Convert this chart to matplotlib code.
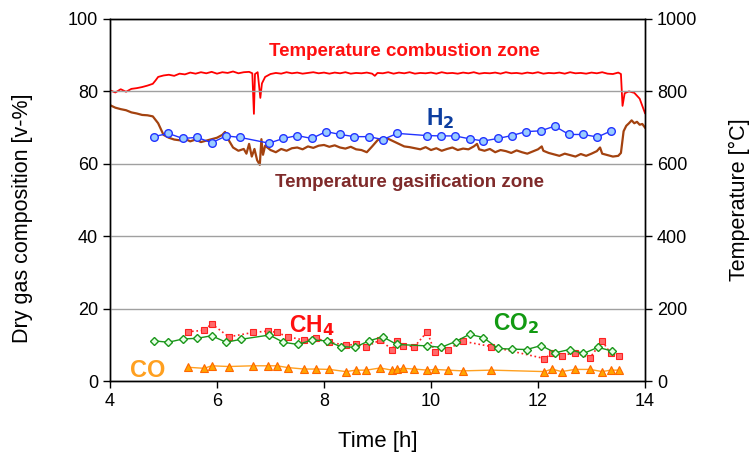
import matplotlib
matplotlib.use("Agg")
import matplotlib.pyplot as plt

plt.rcParams['font.family'] = ['Liberation Sans', 'DejaVu Sans']

# ---- gas composition (left axis, v-%) ----
h2_t = [4.82, 5.09, 5.36, 5.63, 5.90, 6.17, 6.43, 6.97, 7.24, 7.50, 7.77, 8.04, 8.30, 8.57,
        8.84, 9.10, 9.37, 9.92, 10.19, 10.45, 10.72, 10.98, 11.25, 11.51, 11.78, 12.05,
        12.31, 12.58, 12.85, 13.11, 13.37]
h2_v = [67.5, 68.4, 67.0, 67.3, 65.8, 67.7, 67.3, 65.7, 67.0, 67.8, 67.0, 68.9, 68.1, 67.5,
        67.5, 66.7, 68.4, 67.8, 67.7, 67.7, 66.9, 66.3, 67.0, 67.8, 68.9, 69.1,
        70.4, 68.1, 68.1, 67.4, 69.1]

co2_t = [4.82, 5.09, 5.36, 5.63, 5.90, 6.17, 6.44, 6.98, 7.24, 7.51, 7.78, 8.05, 8.31, 8.58,
         8.84, 9.10, 9.36, 9.92, 10.19, 10.46, 10.72, 10.98, 11.25, 11.51, 11.79, 12.06,
         12.32, 12.59, 12.85, 13.12, 13.38]
co2_v = [11.1, 10.7, 11.6, 11.8, 12.5, 10.7, 11.5, 12.7, 10.7, 10.1, 11.3, 11.1, 9.5, 9.3,
         11.1, 12.2, 10.1, 9.7, 9.3, 10.9, 12.9, 12.0, 9.0, 8.8, 8.7, 9.8,
         7.8, 8.7, 7.6, 9.3, 8.3]

ch4_t = [5.45, 5.76, 5.90, 6.22, 6.67, 6.96, 7.12, 7.33, 7.63, 7.85, 8.10, 8.41, 8.60, 8.79,
         9.05, 9.27, 9.36, 9.47, 9.69, 9.93, 10.07, 10.31, 10.59, 11.13, 12.12, 12.26,
         12.44, 12.69, 12.97, 13.20, 13.36, 13.51]
ch4_v = [13.6, 14.0, 15.8, 12.2, 13.4, 13.8, 13.4, 12.2, 11.3, 11.8, 10.7, 9.9, 10.1, 9.5,
         11.3, 8.7, 11.0, 9.8, 9.5, 13.6, 7.9, 8.7, 11.0, 9.5, 6.2, 7.6,
         7.0, 7.8, 6.4, 11.0, 7.6, 7.0]
co_v = [3.8, 3.5, 4.2, 4.0, 4.2, 4.2, 4.2, 3.7, 3.3, 3.3, 3.2, 2.6, 3.0, 3.0,
        3.6, 3.0, 3.2, 3.5, 3.3, 3.0, 3.2, 3.0, 2.8, 3.0, 2.6, 3.3,
        2.6, 3.2, 3.2, 2.6, 3.0, 3.0]

# ---- temperatures (right axis, degC) ----
tc_t = [4.0, 4.1, 4.2, 4.3, 4.4, 4.5, 4.6, 4.7, 4.8, 4.85, 4.9, 5.0, 5.1, 5.2, 5.3, 5.4,
        5.5, 5.6, 5.7, 5.8, 5.9, 6.0, 6.1, 6.2, 6.3, 6.4, 6.5, 6.6, 6.66, 6.69, 6.71,
        6.76, 6.81, 6.84, 6.9, 7.0, 7.1, 7.2, 7.3, 7.4, 7.5, 7.6, 7.7, 7.8, 7.9, 8.0,
        8.1, 8.2, 8.3, 8.4, 8.5, 8.6, 8.7, 8.8, 8.9, 8.95, 9.0, 9.1, 9.2, 9.3, 9.4, 9.5,
        9.6, 9.7, 9.8, 9.9, 10.0, 10.1, 10.2, 10.3, 10.4, 10.5, 10.6, 10.7, 10.8, 10.9,
        11.0, 11.1, 11.2, 11.3, 11.4, 11.5, 11.6, 11.7, 11.8, 11.9, 12.0, 12.1, 12.2,
        12.3, 12.4, 12.5, 12.6, 12.7, 12.8, 12.9, 13.0, 13.1, 13.2, 13.3, 13.4, 13.5,
        13.55, 13.58, 13.62, 13.7, 13.8, 13.9, 14.0]
tc_v = [803, 797, 806, 799, 807, 809, 812, 816, 821, 830, 840, 844, 846, 843, 849, 847,
        852, 849, 853, 850, 854, 849, 853, 851, 855, 850, 853, 854, 850, 738, 848,
        853, 782, 822, 840, 848, 851, 849, 853, 850, 852, 849, 851, 853, 850, 852,
        849, 852, 850, 853, 849, 851, 850, 852, 849, 843, 851, 850, 853, 849, 852, 850,
        853, 849, 851, 850, 852, 849, 853, 850, 851, 849, 852, 850, 853, 849,
        851, 850, 852, 849, 853, 850, 851, 849, 852, 850, 853, 849, 851,
        850, 852, 849, 853, 850, 851, 849, 852, 850, 853, 849, 848, 852,
        848, 760, 795, 800, 796, 780, 740]

tg_t = [4.0, 4.1, 4.2, 4.3, 4.4, 4.5, 4.6, 4.7, 4.8, 4.9, 5.0, 5.1, 5.2, 5.3, 5.4, 5.5,
        5.6, 5.7, 5.8, 5.9, 6.0, 6.1, 6.15, 6.2, 6.3, 6.4, 6.5, 6.55, 6.6, 6.65, 6.7,
        6.75, 6.8, 6.83, 6.86, 6.9, 7.0, 7.1, 7.2, 7.3, 7.4, 7.5, 7.6, 7.7, 7.8, 7.9,
        8.0, 8.1, 8.2, 8.3, 8.4, 8.5, 8.6, 8.7, 8.8, 8.9, 9.0, 9.1, 9.2, 9.3, 9.4, 9.5,
        9.6, 9.7, 9.8, 9.9, 10.0, 10.1, 10.2, 10.3, 10.4, 10.5, 10.6, 10.7, 10.8, 10.86,
        10.9, 11.0, 11.1, 11.2, 11.3, 11.4, 11.5, 11.6, 11.7, 11.8, 11.9, 12.0, 12.07,
        12.1, 12.2, 12.3, 12.4, 12.5, 12.6, 12.7, 12.8, 12.9, 13.0, 13.1, 13.16, 13.2,
        13.3, 13.4, 13.5, 13.55, 13.6, 13.65, 13.7, 13.75, 13.8, 13.85, 13.9, 13.95, 14.0]
tg_v = [762, 755, 751, 748, 742, 739, 735, 734, 731, 712, 680, 672, 667, 665, 669, 662,
        667, 660, 664, 668, 672, 680, 688, 670, 645, 636, 641, 628, 655, 620, 641,
        610, 597, 668, 625, 650, 638, 632, 641, 636, 643, 645, 640, 648, 644, 650,
        652, 647, 651, 645, 642, 647, 640, 638, 632, 648, 665, 672, 669, 662, 655, 648,
        646, 643, 640, 646, 638, 643, 636, 641, 645, 638, 642, 640, 648, 655,
        640, 636, 641, 632, 638, 635, 630, 637, 632, 628, 634, 640, 648,
        636, 630, 626, 622, 628, 624, 620, 627, 622, 628, 635, 645, 628,
        624, 620, 622, 630, 690, 705, 712, 720, 712, 716, 708, 710, 700]

# ---- figure ----
fig = plt.figure(figsize=(7.55, 4.63), dpi=100)
ax = fig.add_axes([110/755, 1-381/463, 535/755, 362/463])
ax2 = ax.twinx()
ax.set_zorder(ax2.get_zorder() + 1)
ax.patch.set_visible(False)

ax2.plot(tg_t, tg_v, color='#a3420f', lw=1.6)
ax2.plot(tc_t, tc_v, color='#ff0000', lw=1.3)
ax2.set_ylim(0, 1000)
ax2.set_yticks([0, 200, 400, 600, 800, 1000])

ax.plot(h2_t, h2_v, color='#2233ff', lw=1.0, marker='o', ms=5.5,
        mfc='#99ccff', mec='#2233ff', mew=1.0)
ax.plot(ch4_t, ch4_v, color='#ff2020', lw=1.2, ls=':', marker='s', ms=5,
        mfc='#ff6b6b', mec='#ff2020', mew=0.8)
ax.plot(co2_t, co2_v, color='#1a961a', lw=1.0, marker='D', ms=4.5,
        mfc='#e6ffe6', mec='#1a961a', mew=1.0)
ax.plot(ch4_t, co_v, color='#ffa020', lw=1.0, marker='^', ms=5.5,
        mfc='#ffa500', mec='#ff6600', mew=0.8)

ax.set_xlim(4, 14)
ax.set_ylim(0, 100)
ax.set_xticks([4, 6, 8, 10, 12, 14])
ax.set_yticks([0, 20, 40, 60, 80, 100])
ax.yaxis.grid(True, color='#a0a0a0', lw=1)
ax.set_axisbelow(True)

for a in (ax, ax2):
    a.tick_params(direction='out', length=5, width=1, labelsize=13, colors='black')
    for s in a.spines.values():
        s.set_linewidth(1.0)
        s.set_color('black')

ax.set_xlabel('Time [h]', fontsize=16, labelpad=15)
ax.set_ylabel('Dry gas composition [v-%]', fontsize=15.5)
ax.yaxis.set_label_coords(-0.143, 0.45)
ax2.set_ylabel('Temperature [°C]', fontsize=15.5, labelpad=23)

ax.text(9.51, 90.9, 'Temperature combustion zone', color='#ff1010', fontsize=13.5,
        fontweight='bold', ha='center', va='center')
ax.text(9.6, 54.7, 'Temperature gasification zone', color='#7f2a2a', fontsize=13.5,
        fontweight='bold', ha='center', va='center')
ax.text(10.17, 72.5, 'H$_\\mathbf{2}$', color='#0d3ea0', fontsize=16.5,
        fontweight='bold', ha='center', va='center')
ax.text(7.78, 15.3, 'CH$_\\mathbf{4}$', color='#ff1010', fontsize=16.5,
        fontweight='bold', ha='center', va='center')
ax.text(11.6, 16.0, 'CO$_\\mathbf{2}$', color='#129a12', fontsize=16.5,
        fontweight='bold', ha='center', va='center')
ax.text(4.71, 3.0, 'CO', color='#ffa020', fontsize=17,
        fontweight='bold', ha='center', va='center')

fig.savefig('out.png', dpi=100)
